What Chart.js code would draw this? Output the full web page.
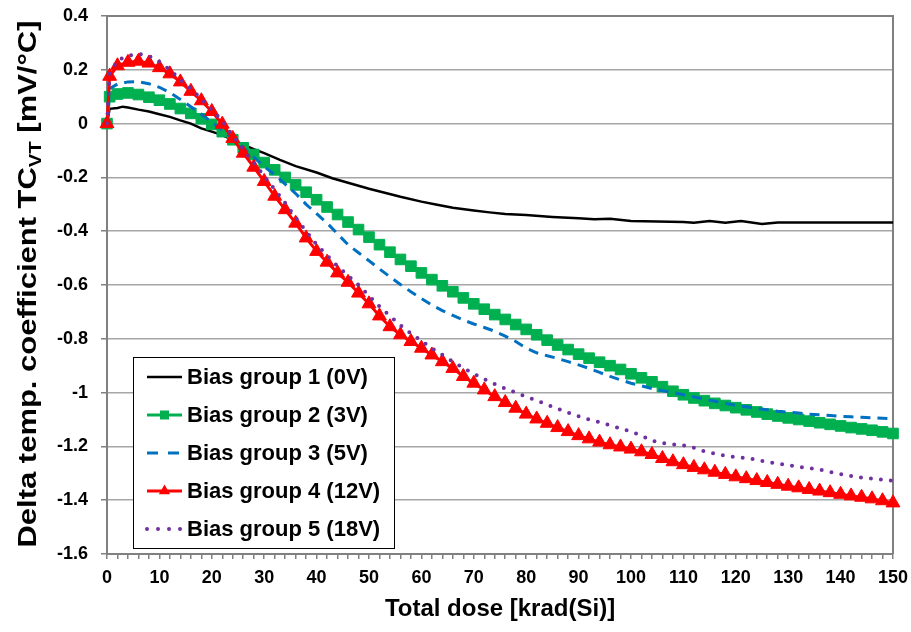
<!DOCTYPE html>
<html>
<head>
<meta charset="utf-8">
<title>Delta temp. coefficient vs total dose</title>
<script src="https://cdn.jsdelivr.net/npm/chart.js@4.4.1/dist/chart.umd.min.js"></script>
<style>
  html, body { margin: 0; padding: 0; background: #fff; }
  #wrap { width: 911px; height: 632px; }
</style>
</head>
<body>
<div id="wrap"><canvas id="myChart" width="911" height="632"></canvas></div>
<script>
// dose steps shared by groups 2-5 [krad(Si)]
const dose = [0, 0.5, 2, 4, 6, 8,
  10, 12, 14, 16, 18, 20, 22, 24, 26, 28,
  30, 32, 34, 36, 38, 40, 42, 44, 46, 48,
  50, 52, 54, 56, 58, 60, 62, 64, 66, 68,
  70, 72, 74, 76, 78, 80, 82, 84, 86, 88,
  90, 92, 94, 96, 98, 100, 102, 104, 106, 108,
  110, 112, 114, 116, 118, 120, 122, 124, 126, 128,
  130, 132, 134, 136, 138, 140, 142, 144, 146, 148,
  150];

// group 1 has no markers, read at fewer doses
const doseGroup1 = [0, 0.5, 2, 3, 4, 6, 8, 10, 12, 14, 16, 18, 20, 22, 25, 28, 30, 33, 36, 40,
  43, 46, 50, 53, 56, 60, 63, 66, 70, 73, 76, 80, 85, 90, 93, 96, 100, 105, 110, 112,
  115, 118, 121, 125, 128, 135, 140, 145, 150];
const group1 = [0, 0.055, 0.058, 0.063, 0.06, 0.052, 0.045, 0.035, 0.025, 0.012, 0, -0.018, -0.03, -0.043, -0.07, -0.095, -0.11, -0.135, -0.158, -0.182,
  -0.203, -0.22, -0.242, -0.257, -0.272, -0.29, -0.302, -0.313, -0.323, -0.33, -0.336, -0.34, -0.347, -0.352, -0.356, -0.354, -0.362, -0.364, -0.366, -0.369,
  -0.362, -0.369, -0.362, -0.373, -0.368, -0.368, -0.368, -0.368, -0.368];

const group2 = [0, 0.1, 0.11, 0.114, 0.108, 0.098,
  0.087, 0.073, 0.056, 0.038, 0.018, -0.003, -0.03, -0.06, -0.09, -0.115,
  -0.145, -0.172, -0.2, -0.228, -0.255, -0.283, -0.31, -0.338, -0.366, -0.394,
  -0.422, -0.45, -0.478, -0.505, -0.53, -0.555, -0.58, -0.603, -0.625, -0.648,
  -0.67, -0.69, -0.71, -0.728, -0.747, -0.765, -0.785, -0.805, -0.823, -0.84,
  -0.857, -0.872, -0.887, -0.9, -0.914, -0.93, -0.945, -0.96, -0.978, -0.995,
  -1.008, -1.02, -1.03, -1.04, -1.048, -1.056, -1.064, -1.072, -1.08, -1.087,
  -1.094, -1.1, -1.106, -1.112, -1.118, -1.124, -1.13, -1.135, -1.14, -1.146,
  -1.152];

const group3 = [0, 0.13, 0.147, 0.155, 0.156, 0.148,
  0.135, 0.115, 0.09, 0.063, 0.035, 0.005, -0.025, -0.055, -0.09, -0.125,
  -0.16, -0.19, -0.225, -0.26, -0.3, -0.335, -0.37, -0.41, -0.45, -0.48,
  -0.51, -0.54, -0.57, -0.598, -0.625, -0.65, -0.675, -0.695, -0.713, -0.73,
  -0.745, -0.758, -0.772, -0.79, -0.81, -0.835, -0.852, -0.863, -0.873, -0.885,
  -0.897, -0.91, -0.925, -0.94, -0.953, -0.965, -0.975, -0.985, -0.993, -1.0,
  -1.008, -1.016, -1.024, -1.032, -1.04, -1.047, -1.053, -1.059, -1.064, -1.069,
  -1.073, -1.076, -1.08, -1.082, -1.085, -1.088, -1.09, -1.092, -1.094, -1.095,
  -1.097];

const group4 = [0, 0.176, 0.215, 0.228, 0.232, 0.225,
  0.208, 0.185, 0.155, 0.12, 0.085, 0.045, -0.002, -0.055, -0.11, -0.162,
  -0.215, -0.27, -0.32, -0.37, -0.425, -0.475, -0.515, -0.555, -0.59, -0.63,
  -0.67, -0.715, -0.755, -0.785, -0.81, -0.835, -0.86, -0.885, -0.91, -0.94,
  -0.965, -0.99, -1.015, -1.037, -1.058, -1.08, -1.098, -1.114, -1.13, -1.145,
  -1.16, -1.172, -1.184, -1.194, -1.202, -1.21, -1.22, -1.23, -1.245, -1.257,
  -1.268, -1.278, -1.287, -1.296, -1.304, -1.313, -1.32, -1.327, -1.334, -1.341,
  -1.348, -1.354, -1.36, -1.366, -1.372, -1.378, -1.384, -1.389, -1.395, -1.402,
  -1.41];

const group5 = [0, 0.185, 0.235, 0.252, 0.26, 0.252,
  0.23, 0.2, 0.163, 0.13, 0.092, 0.05, 0.01, -0.045, -0.095, -0.145,
  -0.195, -0.245, -0.295, -0.35, -0.4, -0.45, -0.49, -0.53, -0.565, -0.6,
  -0.64, -0.68, -0.715, -0.75, -0.78, -0.808, -0.835, -0.86, -0.885, -0.908,
  -0.93, -0.95, -0.968, -0.985, -1.0, -1.015, -1.03, -1.045, -1.06, -1.075,
  -1.088, -1.1, -1.11, -1.122, -1.133, -1.145, -1.16, -1.178, -1.188, -1.192,
  -1.196, -1.205, -1.218, -1.227, -1.235, -1.24, -1.243, -1.25, -1.258, -1.264,
  -1.27, -1.276, -1.281, -1.286, -1.295, -1.303, -1.31, -1.316, -1.32, -1.324,
  -1.328];

const seriesNames = ["Bias group 1 (0V)", "Bias group 2 (3V)", "Bias group 3 (5V)",
  "Bias group 4 (12V)", "Bias group 5 (18V)"];
const doseTickLabels = [0, 10, 20, 30, 40, 50, 60, 70, 80, 90, 100, 110, 120, 130, 140, 150];
const yTickLabels = ["0.4", "0.2", "0", "-0.2", "-0.4", "-0.6", "-0.8", "-1", "-1.2", "-1.4", "-1.6"];
const xTitle = "Total dose [krad(Si)]";
const yTitleParts = ["Delta temp. coefficient TC", "VT", " [mV/\u00B0C]"];

const FONT = '"Liberation Sans", Arial, sans-serif';

function pts(xs, ys) {
  return xs.map((x, i) => ({ x: x, y: ys[i] }));
}

// rotated y title with subscript
const yTitlePlugin = {
  id: "yTitle",
  afterDraw(chart) {
    const ctx = chart.ctx;
    const big = "bold 26px " + FONT;
    const small = "bold 17px " + FONT;
    const parts = [[yTitleParts[0], big, 0], [yTitleParts[1], small, 7], [yTitleParts[2], big, 0]];
    ctx.save();
    let total = 0;
    parts.forEach(p => { ctx.font = p[1]; p.push(ctx.measureText(p[0]).width); total += p[3]; });
    const sx = 527 / total;
    ctx.translate(29, 284);
    ctx.rotate(-Math.PI / 2);
    ctx.scale(sx, 1);
    ctx.fillStyle = "#000";
    ctx.textBaseline = "middle";
    let x = -total / 2;
    parts.forEach(p => { ctx.font = p[1]; ctx.fillText(p[0], x, p[2]); x += p[3]; });
    ctx.restore();
  }
};

// top and right edges of the plot area
const framePlugin = {
  id: "frame",
  beforeDatasetsDraw(chart) {
    const a = chart.chartArea, ctx = chart.ctx;
    ctx.save();
    ctx.strokeStyle = "#808080";
    ctx.lineWidth = 2;
    ctx.beginPath();
    ctx.moveTo(a.left, a.top);
    ctx.lineTo(a.right, a.top);
    ctx.lineTo(a.right, a.bottom);
    ctx.stroke();
    ctx.restore();
  }
};

// boxed legend inside the plot, lower left
const legendPlugin = {
  id: "boxLegend",
  afterDraw(chart) {
    const ctx = chart.ctx;
    const L = 133, T = 357, R = 394, B = 548;
    ctx.save();
    ctx.fillStyle = "#fff";
    ctx.fillRect(L, T, R - L, B - T);
    ctx.strokeStyle = "#000";
    ctx.lineWidth = 1;
    ctx.strokeRect(L + 0.5, T + 0.5, R - L, B - T);
    chart.data.datasets.forEach((ds, i) => {
      const y = 377 + i * 38;
      const x0 = 147, x1 = 182, xm = (x0 + x1) / 2;
      ctx.save();
      ctx.strokeStyle = ds.borderColor;
      ctx.lineWidth = ds.borderWidth;
      ctx.lineCap = ds.borderCapStyle || "butt";
      ctx.setLineDash(ds.legendDash || []);
      ctx.beginPath();
      ctx.moveTo(x0, y);
      ctx.lineTo(x1, y);
      ctx.stroke();
      ctx.setLineDash([]);
      ctx.fillStyle = ds.borderColor;
      if (ds.pointStyle === "rect") {
        ctx.fillRect(xm - 4.5, y - 4.5, 9, 9);
      } else if (ds.pointStyle === "triangle") {
        const r = 6.5;
        ctx.beginPath();
        ctx.moveTo(xm, y - r);
        ctx.lineTo(xm + r * 0.866, y + r / 2);
        ctx.lineTo(xm - r * 0.866, y + r / 2);
        ctx.closePath();
        ctx.fill();
      }
      ctx.restore();
      ctx.fillStyle = "#000";
      ctx.font = "bold 22px " + FONT;
      ctx.textBaseline = "middle";
      ctx.fillText(seriesNames[i], 187, y + 1);
    });
    ctx.restore();
  }
};

new Chart("myChart", {
  type: "line",
  data: {
    datasets: [
      { label: seriesNames[0], data: pts(doseGroup1, group1), borderColor: "#000000", borderWidth: 2.5,
        pointRadius: 0, order: 5 },
      { label: seriesNames[1], data: pts(dose, group2), borderColor: "#00B050", borderWidth: 3,
        pointStyle: "rect", pointRadius: 7.5, pointBackgroundColor: "#00B050", pointBorderColor: "#00B050",
        pointBorderWidth: 1, order: 4 },
      { label: seriesNames[2], data: pts(dose, group3), borderColor: "#0070C0", borderWidth: 3,
        borderDash: [10, 7], legendDash: [11, 10], pointRadius: 0, order: 3 },
      { label: seriesNames[3], data: pts(dose, group4), borderColor: "#FF0000", borderWidth: 3,
        pointStyle: "triangle", pointRadius: 8, pointBackgroundColor: "#FF0000", pointBorderColor: "#FF0000",
        pointBorderWidth: 1, order: 2 },
      { label: seriesNames[4], data: pts(dose, group5), borderColor: "#7030A0", borderWidth: 4,
        borderDash: [0, 10], legendDash: [0, 11], borderCapStyle: "round", pointRadius: 0, order: 1 }
    ]
  },
  options: {
    responsive: false,
    animation: false,
    events: [],
    clip: false,
    layout: { padding: { top: 16, right: 18, left: 0, bottom: 0 } },
    plugins: { legend: { display: false }, tooltip: { enabled: false } },
    scales: {
      x: {
        type: "linear",
        min: 0, max: 150,
        afterFit(scale) {
          scale.height = 78;
          scale.paddingLeft = 0;
          scale.paddingRight = 0;
        },
        ticks: {
          stepSize: 2, autoSkip: false, maxRotation: 0, padding: 8, color: "#000",
          font: { family: FONT, size: 18, weight: "bold" },
          callback: v => doseTickLabels.includes(v) ? String(v) : ""
        },
        grid: { drawOnChartArea: false, tickLength: 5, tickColor: "#808080", lineWidth: 1.5 },
        border: { color: "#808080", width: 2 },
        title: {
          display: true, text: xTitle, color: "#000",
          font: { family: FONT, size: 24, weight: "bold" },
          padding: { top: 0, bottom: 8 }
        }
      },
      y: {
        min: -1.6, max: 0.4,
        afterFit(scale) {
          scale.width = 107;
          scale.paddingTop = 0;
          scale.paddingBottom = 0;
        },
        ticks: {
          stepSize: 0.2, padding: 13, color: "#000",
          font: { family: FONT, size: 18, weight: "bold" },
          callback: (v, i) => yTickLabels[yTickLabels.length - 1 - i]
        },
        grid: { color: "#a6a6a6", lineWidth: 1.5, tickLength: 6, tickColor: "#808080" },
        border: { color: "#808080", width: 2 }
      }
    }
  },
  plugins: [framePlugin, legendPlugin, yTitlePlugin]
});
</script>
</body>
</html>
